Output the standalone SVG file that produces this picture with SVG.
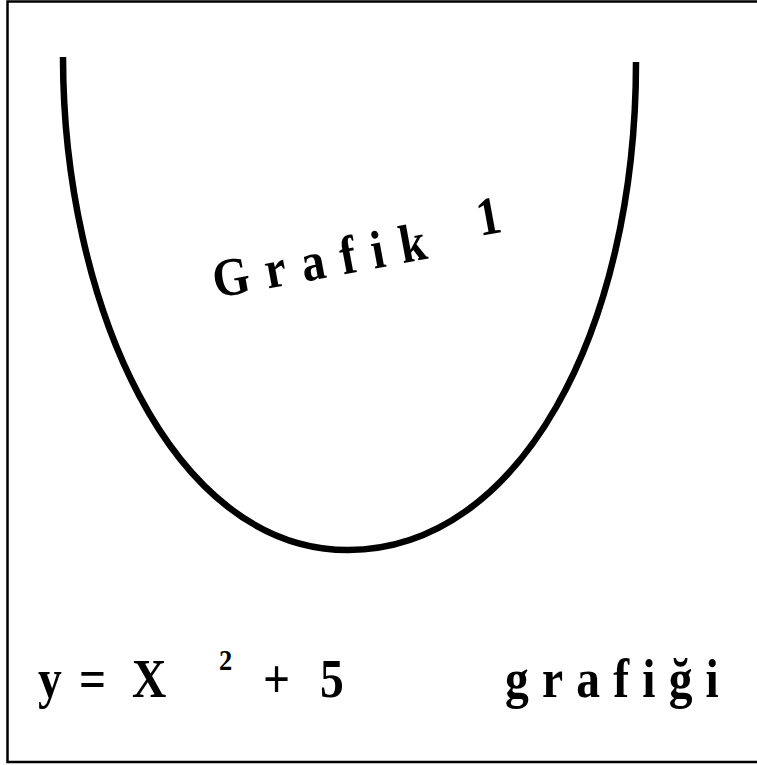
<svg xmlns="http://www.w3.org/2000/svg" width="757" height="765" viewBox="0 0 757 765">
<style>
.t{font-family:"Liberation Serif","Times New Roman",serif;font-weight:bold;fill:#000}
.f{font-size:54px}
</style>
<rect width="757" height="765" fill="#fff"/>
<g id="frame"><path d="M757 1.5H7.5V762H757" fill="none" stroke="#000" stroke-width="2.5"/></g>
<g id="curve"><path d="M63 57C63 300 170 550 348 550C520 550 636 330 636 62" fill="none" stroke="#000" stroke-width="6.5"/></g>
<g id="label1">
<text class="t" font-size="54" letter-spacing="18" transform="translate(216,298) rotate(-10.5) scale(0.88,1)">Grafik</text>
<text class="t" font-size="54" transform="translate(480,236) rotate(-10.5) scale(0.88,1)">1</text>
</g>
<g id="formula">
<text class="t f" transform="translate(38,697) scale(0.88,1)">y</text>
<text class="t f" transform="translate(79,697) scale(0.88,1)">=</text>
<text class="t f" transform="translate(132,697) scale(0.88,1)">X</text>
<text class="t" font-size="30" transform="translate(219,670) scale(0.88,1)">2</text>
<text class="t f" transform="translate(263,697) scale(0.88,1)">+</text>
<text class="t f" transform="translate(320,697) scale(0.88,1)">5</text>
<text class="t f" letter-spacing="15" transform="translate(505,697) scale(0.88,1)">grafiği</text>
</g>
</svg>
